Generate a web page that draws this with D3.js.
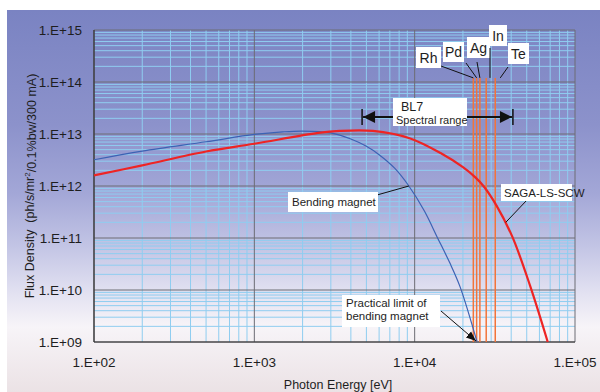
<!DOCTYPE html>
<html>
<head>
<meta charset="utf-8">
<script src="https://cdn.jsdelivr.net/npm/d3@7"></script>
<style>
  body { margin: 0; background: #fff; }
  text { font-family: "Liberation Sans", Arial, sans-serif; fill: #1e1e1e; }
</style>
</head>
<body>
<svg id="chart"></svg>
<script>
// data (photon energy in eV, flux density)
var bendingE = [100, 200, 500, 1000, 1500, 2000, 3000, 4000, 5000, 6000, 7500, 9200, 11500, 13800, 16500, 19200, 24500];
var bendingFlux = [3.2e12, 4.7e12, 7.1e12, 9.8e12, 1.1e13, 1.14e13, 1.05e13, 8.0e12, 5.8e12, 4.0e12, 2.2e12, 1.0e12, 3.3e11, 1.05e11, 3.4e10, 1.15e10, 1.0e9];

var scwE = [100, 200, 500, 1000, 2500, 3400, 5500, 9300, 14500, 20000, 24000, 27000, 32400, 40700, 52500, 67600];
var scwFlux = [1.6e12, 2.5e12, 4.6e12, 6.5e12, 1.05e13, 1.15e13, 1.15e13, 8.3e12, 4.3e12, 2.3e12, 1.45e12, 9.8e11, 4.2e11, 1.05e11, 1.2e10, 1.0e9];

// K absorption edges
var edgeNames = ["Rh", "Pd", "Ag", "In", "Te"];
var edgeE = [23220, 24350, 25514, 27940, 31814];

var bl7Range = [4700, 41000];

var xTicks = [1e2, 1e3, 1e4, 1e5];
var yTicks = [1e9, 1e10, 1e11, 1e12, 1e13, 1e14, 1e15];
var xTickLabels = ["1.E+02", "1.E+03", "1.E+04", "1.E+05"];
var yTickLabels = ["1.E+09", "1.E+10", "1.E+11", "1.E+12", "1.E+13", "1.E+14", "1.E+15"];

var width = 600, height = 392;
var svg = d3.select("#chart").attr("width", width).attr("height", height);

// background gradient
var defs = svg.append("defs");
var grad = defs.append("linearGradient").attr("id", "bg")
  .attr("x1", 0).attr("y1", 0).attr("x2", 0).attr("y2", 1);
[["0%", "#7a83c2"], ["30%", "#8c92cb"], ["48%", "#a3a7d7"], ["62%", "#c3c5e5"],
 ["74%", "#e2e1f1"], ["83%", "#f7f4f8"], ["100%", "#ebe2e5"]].forEach(function (s) {
  grad.append("stop").attr("offset", s[0]).attr("stop-color", s[1]);
});
svg.append("rect").attr("x", 7).attr("y", 10).attr("width", width - 7).attr("height", height - 10)
  .attr("fill", "url(#bg)");

var x = d3.scaleLog().domain([1e2, 1e5]).range([94, 575]);
var y = d3.scaleLog().domain([1e9, 1e15]).range([342, 30]);

// grid
var grid = svg.append("g");
var minorX = [], minorY = [];
for (var p = 2; p < 5; p++) for (var k = 2; k < 10; k++) minorX.push(k * Math.pow(10, p));
for (var p2 = 9; p2 < 15; p2++) for (var k2 = 2; k2 < 10; k2++) minorY.push(k2 * Math.pow(10, p2));

grid.selectAll("line.minx").data(minorX).enter().append("line")
  .attr("x1", function (d) { return x(d); }).attr("x2", function (d) { return x(d); })
  .attr("y1", y(1e9)).attr("y2", y(1e15))
  .style("stroke", "#8fcdf0").style("stroke-width", 1);
grid.selectAll("line.miny").data(minorY).enter().append("line")
  .attr("y1", function (d) { return y(d); }).attr("y2", function (d) { return y(d); })
  .attr("x1", x(1e2)).attr("x2", x(1e5))
  .style("stroke", "#8fcdf0").style("stroke-width", 1);
grid.selectAll("line.majx").data(xTicks).enter().append("line")
  .attr("x1", function (d) { return x(d); }).attr("x2", function (d) { return x(d); })
  .attr("y1", y(1e9)).attr("y2", y(1e15))
  .style("stroke", "#6c6c74").style("stroke-width", 1);
grid.selectAll("line.majy").data(yTicks).enter().append("line")
  .attr("y1", function (d) { return y(d); }).attr("y2", function (d) { return y(d); })
  .attr("x1", x(1e2)).attr("x2", x(1e5))
  .style("stroke", "#6c6c74").style("stroke-width", 1);
svg.append("line").attr("x1", x(1e2)).attr("x2", x(1e2)).attr("y1", y(1e9)).attr("y2", y(1e15))
  .style("stroke", "#333").style("stroke-width", 1.2);
svg.append("line").attr("x1", x(1e2)).attr("x2", x(1e5)).attr("y1", y(1e9)).attr("y2", y(1e9))
  .style("stroke", "#333").style("stroke-width", 1.2);

// tick labels
svg.selectAll("text.ytick").data(yTicks).enter().append("text")
  .attr("x", 82).attr("y", function (d) { return y(d); }).attr("dy", "0.36em")
  .attr("text-anchor", "end").attr("font-size", "13.5px")
  .text(function (d, i) { return yTickLabels[i]; });
svg.selectAll("text.xtick").data(xTicks).enter().append("text")
  .attr("x", function (d) { return x(d); }).attr("y", 367)
  .attr("text-anchor", "middle").attr("font-size", "13.5px")
  .text(function (d, i) { return xTickLabels[i]; });

// axis titles
svg.append("text").attr("x", 338).attr("y", 389).attr("text-anchor", "middle")
  .attr("font-size", "12.5px").text("Photon Energy [eV]");
var yt = svg.append("text").attr("transform", "translate(34,186) rotate(-90)")
  .attr("text-anchor", "middle").attr("font-size", "12.5px");
yt.append("tspan").text("Flux Density\u00a0\u00a0(ph/s/mr");
yt.append("tspan").attr("font-size", "8px").attr("dy", "-0.5em").text("2");
yt.append("tspan").attr("dy", "0.5em").text("/0.1%bw/300 mA)");

// K-edge lines
svg.selectAll("line.edge").data(edgeE).enter().append("line")
  .attr("x1", function (d) { return x(d); }).attr("x2", function (d) { return x(d); })
  .attr("y1", y(1.2e14)).attr("y2", y(1e9))
  .style("stroke", "#f2743a").style("stroke-width", 1.5);

// curves
var line = d3.line()
  .x(function (d) { return x(d[0]); })
  .y(function (d) { return y(d[1]); })
  .curve(d3.curveCatmullRom.alpha(0.5));

svg.append("path").datum(d3.zip(bendingE, bendingFlux)).attr("d", line)
  .style("fill", "none").style("stroke", "#3c62b4").style("stroke-width", 1.2);
svg.append("path").datum(d3.zip(scwE, scwFlux)).attr("d", line)
  .style("fill", "none").style("stroke", "#ee2424").style("stroke-width", 2.2);

// arrowheads
defs.append("marker").attr("id", "arr").attr("viewBox", "0 0 10 10")
  .attr("refX", 10).attr("refY", 5).attr("markerWidth", 10).attr("markerHeight", 10)
  .attr("markerUnits", "userSpaceOnUse").attr("orient", "auto")
  .append("path").attr("d", "M0,1L10,5L0,9Z").style("fill", "#111");
defs.append("marker").attr("id", "arrBig").attr("viewBox", "0 0 10 10")
  .attr("refX", 10).attr("refY", 5).attr("markerWidth", 14).attr("markerHeight", 12)
  .attr("markerUnits", "userSpaceOnUse").attr("orient", "auto-start-reverse")
  .append("path").attr("d", "M0,0L10,5L0,10Z").style("fill", "#111");

// BL7 spectral range
var ay = 117;
svg.append("line").attr("x1", x(bl7Range[0]) + 1).attr("x2", x(bl7Range[1]) - 1)
  .attr("y1", ay).attr("y2", ay)
  .attr("marker-start", "url(#arrBig)").attr("marker-end", "url(#arrBig)")
  .style("stroke", "#111").style("stroke-width", 2);
svg.selectAll("line.bar").data(bl7Range).enter().append("line")
  .attr("x1", function (d) { return x(d); }).attr("x2", function (d) { return x(d); })
  .attr("y1", ay - 8).attr("y2", ay + 8)
  .style("stroke", "#111").style("stroke-width", 1.5);
svg.append("rect").attr("x", 393).attr("y", 98).attr("width", 74).attr("height", 28).attr("fill", "#fff");
svg.append("text").attr("x", 401).attr("y", 111).attr("font-size", "12.5px").text("BL7");
svg.append("text").attr("x", 396).attr("y", 124).attr("font-size", "11px").text("Spectral range");

// element labels
var boxes = [
  { bx: 416, by: 47, w: 25, h: 21, lx: 441, ly: 66 },
  { bx: 443, by: 42, w: 21, h: 20, lx: 466, ly: 63 },
  { bx: 467, by: 37, w: 23, h: 21, lx: 477, ly: 62 },
  { bx: 489, by: 25, w: 18, h: 21, lx: 490, ly: 48 },
  { bx: 508, by: 43, w: 21, h: 21, lx: 508, ly: 67 }
];
var edgeTop = y(1.2e14);
boxes.forEach(function (b, i) {
  var ex = x(edgeE[i]);
  var tx = i === 3 ? b.lx : (i === 4 ? ex + 5 : ex);
  svg.append("line").attr("x1", b.lx).attr("y1", b.ly).attr("x2", tx).attr("y2", edgeTop)
    .style("stroke", "#111").style("stroke-width", 1);
  svg.append("rect").attr("x", b.bx).attr("y", b.by).attr("width", b.w).attr("height", b.h).attr("fill", "#fff");
  svg.append("text").attr("x", b.bx + b.w / 2).attr("y", b.by + b.h / 2).attr("dy", "0.36em")
    .attr("text-anchor", "middle").attr("font-size", "14px").text(edgeNames[i]);
});

// Bending magnet label
svg.append("line").attr("x1", 377).attr("y1", 195).attr("x2", x(9200)).attr("y2", y(1e12))
  .style("stroke", "#111").style("stroke-width", 1);
svg.append("rect").attr("x", 288).attr("y", 192).attr("width", 90).attr("height", 20).attr("fill", "#fff");
svg.append("text").attr("x", 292).attr("y", 206).attr("font-size", "11.5px").text("Bending magnet");

// SAGA-LS-SCW label
svg.append("line").attr("x1", 527).attr("y1", 200).attr("x2", x(37000)).attr("y2", y(2.0e11))
  .style("stroke", "#111").style("stroke-width", 1);
svg.append("rect").attr("x", 501).attr("y", 184).attr("width", 71).attr("height", 17).attr("fill", "#fff");
svg.append("text").attr("x", 504).attr("y", 197).attr("font-size", "11.5px").text("SAGA-LS-SCW");

// Practical limit label
svg.append("line").attr("x1", 441).attr("y1", 311).attr("x2", x(24500) - 1).attr("y2", y(1e9) - 1)
  .attr("marker-end", "url(#arr)")
  .style("stroke", "#111").style("stroke-width", 1);
svg.append("rect").attr("x", 342).attr("y", 295).attr("width", 98).attr("height", 32).attr("fill", "#fff");
svg.append("text").attr("x", 346).attr("y", 307).attr("font-size", "11.5px").text("Practical limit of");
svg.append("text").attr("x", 346).attr("y", 320).attr("font-size", "11.5px").text("bending magnet");
</script>
</body>
</html>
